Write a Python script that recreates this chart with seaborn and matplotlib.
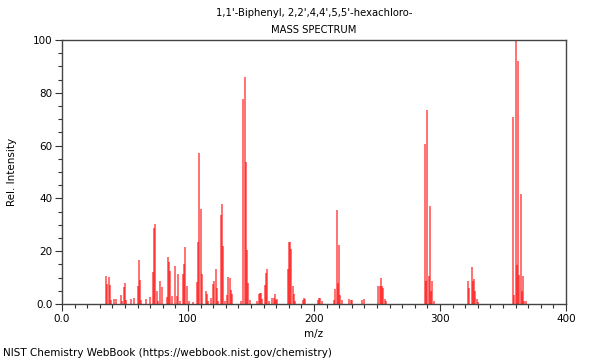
"""
mass spectrum of PCB 153 (NIST webbook style)
"""
import numpy as np
import matplotlib
matplotlib.use('Agg')
import matplotlib.pyplot as plt
import seaborn as sns
from matplotlib.ticker import MultipleLocator, FuncFormatter

compound = "1,1'-Biphenyl, 2,2',4,4',5,5'-hexachloro-"
source = 'NIST Chemistry WebBook (https://webbook.nist.gov/chemistry)'

# m/z and relative intensity
mz = [35, 36, 37, 38, 39, 41, 43, 47, 48, 49, 50, 51,
      55, 57, 60, 61, 62, 63, 67, 70, 72, 73, 74, 75, 76,
      78, 79, 83, 84, 85, 86, 87, 90, 91, 92, 94, 96, 97, 98, 99,
      101, 104, 107, 108, 109, 110, 111, 114, 115, 116,
      118, 120, 121, 122, 123, 124, 126, 127, 128, 129,
      131, 132, 133, 134, 135, 142, 144, 145, 146, 147, 148, 149,
      155, 156, 157, 158, 159, 161, 162, 163, 164, 167, 168, 169, 170, 171,
      179, 180, 181, 182, 183, 184, 185, 191, 192, 193,
      203, 204, 205, 206, 216, 217, 218, 219, 220, 221, 222,
      228, 229, 230, 238, 240, 251, 252, 253, 254, 255, 256, 257,
      288, 289, 290, 291, 292, 293, 294, 295,
      322, 323, 325, 326, 327, 328, 329, 330,
      358, 359, 360, 361, 362, 363, 364, 365, 366, 367, 368]
intensity = [10.7, 7.5, 10.3, 7.3, 1.5, 1.9, 2.0, 3.5, 1.0, 6.4, 7.8, 1.5,
             2.0, 2.3, 7.0, 16.7, 9.0, 1.5, 2.0, 2.5, 12.0, 28.6, 30.2, 4.9, 1.0,
             8.6, 6.6, 2.5, 17.8, 16.0, 12.5, 2.9, 14.3, 3.0, 11.5, 1.0, 11.5, 15.3, 21.6, 7.0,
             1.0, 0.8, 8.2, 23.5, 57.2, 35.9, 11.4, 5.0, 3.6, 1.0,
             2.3, 7.6, 8.7, 13.4, 6.0, 1.0, 33.8, 37.9, 22.1, 1.2,
             3.3, 10.2, 10.0, 5.3, 3.6, 1.2, 77.5, 85.9, 53.8, 20.5, 8.0, 1.5,
             1.0, 3.7, 4.3, 4.3, 2.0, 7.2, 11.8, 13.2, 1.0, 2.3, 2.4, 3.7, 1.5, 2.0,
             13.3, 23.3, 23.6, 20.8, 6.9, 3.6, 1.0, 1.4, 2.2, 1.8,
             1.6, 2.3, 2.3, 1.0, 1.5, 5.8, 35.6, 8.0, 22.3, 3.5, 1.5,
             2.0, 1.5, 1.5, 1.5, 2.0, 7.0, 7.0, 10.0, 7.0, 6.0, 2.0, 1.0,
             60.6, 8.7, 73.5, 10.5, 37.0, 5.0, 8.7, 1.0,
             8.8, 6.0, 13.9, 8.8, 9.3, 5.0, 2.0, 0.7,
             70.7, 3.5, 100.0, 14.6, 92.0, 10.8, 41.7, 5.0, 10.5, 1.0, 1.0]

x_ticks = [0, 100, 200, 300, 400]
y_ticks = [0, 20, 40, 60, 80, 100]


def fmt_tick(v, pos):
    # the webbook prints the origin as 0.0
    return '0.0' if v == 0 else f'{int(v)}'


sns.set_style('ticks')
plt.rcParams['font.family'] = ['DejaVu Sans']
plt.rcParams['text.color'] = 'black'
plt.rcParams['axes.labelcolor'] = 'black'
plt.rcParams['xtick.labelcolor'] = 'black'
plt.rcParams['ytick.labelcolor'] = 'black'

fig = plt.figure(figsize=(6, 3.6), dpi=100)
ax = fig.add_axes([62 / 600, 1 - 304 / 360, 504 / 600, 264 / 360])

ax.vlines(mz, 0, intensity, color='#ff0000', alpha=0.7, linewidth=1.1)

ax.set_xlim(0, 400)
ax.set_ylim(0, 100)
ax.set_xticks(x_ticks)
ax.set_yticks(y_ticks)
ax.xaxis.set_minor_locator(MultipleLocator(10))
ax.yaxis.set_minor_locator(MultipleLocator(5))
ax.xaxis.set_major_formatter(FuncFormatter(fmt_tick))
ax.yaxis.set_major_formatter(FuncFormatter(fmt_tick))
ax.tick_params(which='major', length=5, width=0.8, labelsize=7.5, color='#333333',
               labelcolor='black', pad=2)
ax.tick_params(which='minor', length=3, width=0.8, color='#333333')

for side in ['left', 'bottom', 'top', 'right']:
    ax.spines[side].set_color('#444444')
    ax.spines[side].set_linewidth(1.0)

ax.set_xlabel('m/z', fontsize=7.5, labelpad=4)
ax.set_ylabel('Rel. Intensity', fontsize=7.5, labelpad=11)

fig.text(314 / 600, 1 - 13 / 360, compound, ha='center', va='center', fontsize=7.2)
fig.text(314 / 600, 1 - 30 / 360, 'MASS SPECTRUM', ha='center', va='center', fontsize=7.2)
fig.text(3 / 600, 1 - 353 / 360, source, ha='left', va='center', fontsize=7.5)

fig.savefig('out.png', dpi=100)
